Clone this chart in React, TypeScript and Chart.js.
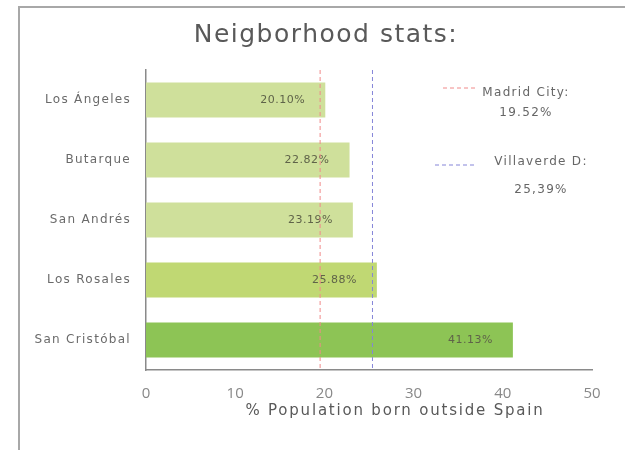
import React, { useEffect, useRef } from "react";
import { Chart, registerables } from "chart.js";

Chart.register(...registerables);

const categories = ["Los Ángeles", "Butarque", "San Andrés", "Los Rosales", "San Cristóbal"];
const values = [20.1, 22.82, 23.19, 25.88, 41.13];
const valueLabels = ["20.10%", "22.82%", "23.19%", "25.88%", "41.13%"];
const barColors = ["#cfe09b", "#cfe09b", "#cfe09b", "#c0d873", "#8dc455"];
const refValues = [19.52, 25.39];
const refNames = ["Madrid City:", "Villaverde D:"];
const refLabels = ["19.52%", "25,39%"];
const refColors = ["#f08a8a", "#8585d8"];
const xTicks = [0, 10, 20, 30, 40, 50];

const FONT = "'DejaVu Sans', sans-serif";
const TICKFONT = "'Open Sans', sans-serif";

const customPlugin = {
  id: "custom",
  beforeDraw(chart: any) {
    const ctx = chart.ctx;
    ctx.save();
    ctx.fillStyle = "#fff";
    ctx.fillRect(0, 0, chart.width, chart.height);
    ctx.strokeStyle = "#a8a8a8";
    ctx.lineWidth = 2;
    ctx.beginPath();
    ctx.moveTo(18, 7);
    ctx.lineTo(chart.width, 7);
    ctx.moveTo(19, 6);
    ctx.lineTo(19, chart.height);
    ctx.stroke();
    ctx.restore();
  },
  afterDatasetsDraw(chart: any) {
    const ctx = chart.ctx;
    const xs = chart.scales.x;
    const ys = chart.scales.y;
    const area = chart.chartArea;
    ctx.save();
    // category labels
    ctx.font = `12px ${FONT}`;
    (ctx as any).letterSpacing = "1.3px";
    ctx.fillStyle = "#6a6a6a";
    ctx.textAlign = "right";
    ctx.textBaseline = "middle";
    categories.forEach((c, i) => {
      ctx.fillText(c, area.left - 15, ys.getPixelForTick(i));
    });
    // value labels
    const meta = chart.getDatasetMeta(0);
    ctx.font = `11px ${FONT}`;
    (ctx as any).letterSpacing = "0.5px";
    ctx.fillStyle = "#5f6349";
    meta.data.forEach((bar: any, i: number) => {
      ctx.fillText(valueLabels[i], bar.x - 20, bar.y);
    });
    (ctx as any).letterSpacing = "0px";
    // reference lines
    refValues.forEach((v, i) => {
      const px = xs.getPixelForValue(v);
      ctx.strokeStyle = refColors[i];
      ctx.lineWidth = 1;
      ctx.setLineDash([4, 3]);
      ctx.beginPath();
      ctx.moveTo(px, area.top);
      ctx.lineTo(px, area.bottom);
      ctx.stroke();
    });
    // legend
    const legend = [
      { x1: 443, x2: 475, y: 88, tx: 526, ty1: 93, ty2: 113 },
      { x1: 435, x2: 477, y: 165, tx: 541, ty1: 162, ty2: 190 },
    ];
    legend.forEach((l, i) => {
      ctx.strokeStyle = refColors[i];
      ctx.setLineDash([4, 3]);
      ctx.beginPath();
      ctx.moveTo(l.x1, l.y);
      ctx.lineTo(l.x2, l.y);
      ctx.stroke();
      ctx.setLineDash([]);
      ctx.fillStyle = "#666";
      ctx.font = `12px ${FONT}`;
      (ctx as any).letterSpacing = "1.3px";
      ctx.textAlign = "center";
      ctx.fillText(refNames[i], l.tx, l.ty1);
      ctx.fillText(refLabels[i], l.tx, l.ty2);
    });
    // titles
    ctx.fillStyle = "#595959";
    ctx.font = `25px ${FONT}`;
    (ctx as any).letterSpacing = "1.5px";
    ctx.textAlign = "center";
    ctx.fillText("Neigborhood stats:", 326, 35);
    ctx.font = `15px ${FONT}`;
    (ctx as any).letterSpacing = "1.8px";
    ctx.fillText("% Population born outside Spain", 395, 411);
    (ctx as any).letterSpacing = "0px";
    ctx.restore();
  },
};

export default function App() {
  const ref = useRef<HTMLCanvasElement>(null);
  useEffect(() => {
    const chart = new Chart(ref.current!, {
      type: "bar",
      data: {
        labels: categories,
        datasets: [
          {
            data: values,
            backgroundColor: barColors,
            barPercentage: 0.58,
            categoryPercentage: 1,
          },
        ],
      },
      options: {
        indexAxis: "y",
        animation: false,
        responsive: false,
        layout: { padding: { top: 70, right: 33, left: 0, bottom: 0 } },
        plugins: { legend: { display: false }, tooltip: { enabled: false }, title: { display: false } },
        scales: {
          x: {
            min: 0,
            max: 50,
            afterBuildTicks(scale: any) {
              scale.ticks = xTicks.map((v) => ({ value: v }));
            },
            afterFit(scale: any) {
              scale.height = 80;
            },
            grid: { display: false, drawTicks: false },
            border: { display: true, color: "#8a8a8a", width: 1.5 },
            ticks: { padding: 15, color: "#888", font: { family: TICKFONT, size: 15 } },
          },
          y: {
            afterFit(scale: any) {
              scale.width = 146;
            },
            grid: { display: false, drawTicks: false },
            border: { display: true, color: "#8a8a8a", width: 1.5 },
            ticks: { display: false },
          },
        },
      },
      plugins: [customPlugin],
    } as any);
    return () => chart.destroy();
  }, []);
  return (
    <div style={{ position: "fixed", left: 0, top: 0, width: 625, height: 450 }}>
      <canvas ref={ref} width={625} height={450} style={{ width: 625, height: 450 }} />
    </div>
  );
}
